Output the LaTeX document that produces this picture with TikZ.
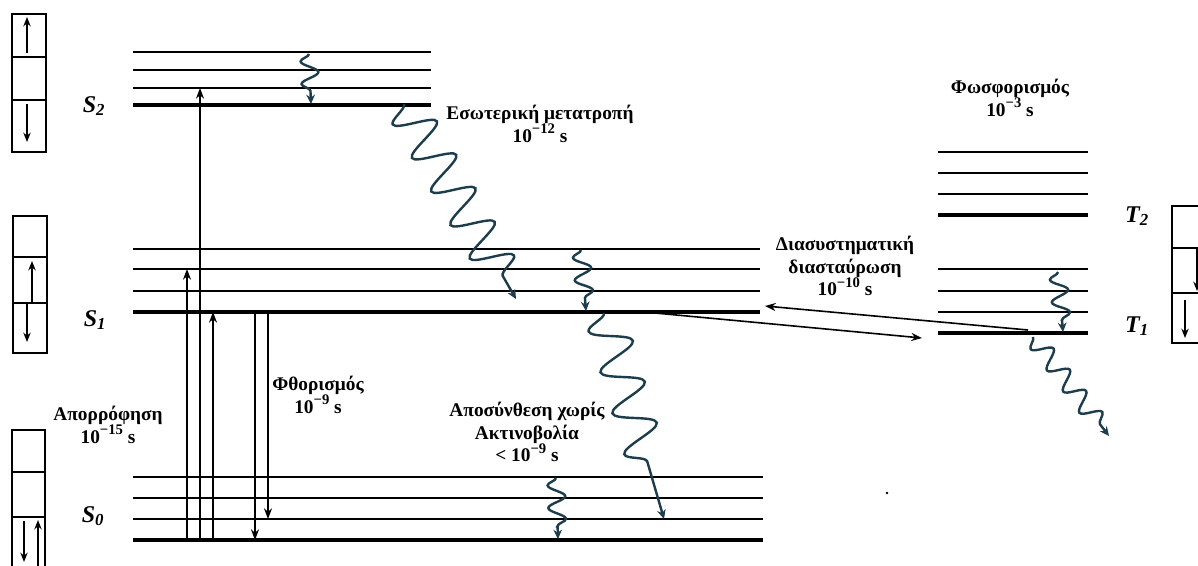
\documentclass[tikz,border=0pt]{standalone}
\usepackage{fontspec}
\setmainfont{Liberation Serif}
\usetikzlibrary{decorations.pathmorphing,arrows.meta}

\definecolor{wavecol}{HTML}{1D3D4D}
\newcommand\pw[1]{\raisebox{0.45em}{\fontsize{11}{11}\selectfont #1}}

\begin{document}
\begin{tikzpicture}[x=0.75pt,y=-0.75pt,
  level/.style={line width=1.9pt},
  ground/.style={line width=2.8pt},
  jump/.style={line width=1.2pt,-{Stealth[length=8pt,width=6pt]}},
  spin/.style={line width=1.5pt,-{Stealth[length=7pt,width=5.5pt]}},
  cell/.style={line width=1.6pt},
  lbl/.style={font=\fontsize{14.5}{17}\selectfont\bfseries,align=center,inner sep=0pt},
  slab/.style={font=\fontsize{18}{18}\selectfont\bfseries\itshape,inner sep=0pt},
  wave/.style n args={3}{wavecol,line width=1.8pt,-{Stealth[length=7pt,width=6.5pt]},
    decorate,decoration={snake,mirror,amplitude=#1,segment length=#2,post length=#3,pre length=0pt}}]

\useasboundingbox (0,0) rectangle (1198,565);

% ---------- singlet levels ----------
\foreach \y in {52,70,88} \draw[level] (133,\y) -- (431,\y);
\draw[ground] (133,105) -- (431,105);
\foreach \y in {249,269,291} \draw[level] (133,\y) -- (760,\y);
\draw[ground] (133,312) -- (760,312);
\foreach \y in {477,498,519} \draw[level] (133,\y) -- (763,\y);
\draw[ground] (133,540) -- (763,540);

% ---------- triplet levels ----------
\foreach \y in {152,173,194} \draw[level] (938,\y) -- (1088,\y);
\draw[ground] (938,215) -- (1088,215);
\foreach \y in {269,291,312} \draw[level] (938,\y) -- (1088,\y);
\draw[ground] (938,333) -- (1088,333);

% ---------- state labels ----------
\node[slab] (s2) at (94,106) {S\textsubscript{2}};
\node[slab] (s1) at (95,320) {S\textsubscript{1}};
\node[slab] (s0) at (93,516) {S\textsubscript{0}};
\node[slab] (t2) at (1137,216) {T\textsubscript{2}};
\node[slab] (t1) at (1137,326) {T\textsubscript{1}};

% ---------- orbital diagrams ----------
\draw[cell] (12,14) rectangle (46,152);
\draw[cell] (12,57) -- (46,57) (12,100) -- (46,100);
\coordinate (b1a) at (27,53); \coordinate (b1b) at (27,17);
\coordinate (b1c) at (27,104); \coordinate (b1d) at (27,142);
\draw[spin] (b1a) -- (b1b);
\draw[spin] (b1c) -- (b1d);

\draw[cell] (13,216) rectangle (47,353);
\draw[cell] (13,257) -- (47,257) (13,303) -- (47,303);
\coordinate (b2a) at (32,303); \coordinate (b2b) at (32,261);
\coordinate (b2c) at (27,304); \coordinate (b2d) at (27,342);
\draw[spin] (b2a) -- (b2b);
\draw[spin] (b2c) -- (b2d);

\draw[cell] (12,430) rectangle (45,580);
\draw[cell] (12,472) -- (45,472) (12,517) -- (45,517);
\coordinate (b3a) at (24,521); \coordinate (b3b) at (24,562);
\coordinate (b3c) at (38,566); \coordinate (b3d) at (38,520);
\draw[spin] (b3a) -- (b3b);
\draw[spin] (b3c) -- (b3d);

\draw[cell] (1172,206) rectangle (1215,343);
\draw[cell] (1172,248) -- (1215,248) (1172,293) -- (1215,293);
\coordinate (b4a) at (1197,249); \coordinate (b4b) at (1197,291);
\coordinate (b4c) at (1185,300); \coordinate (b4d) at (1185,338);
\draw[spin] (b4a) -- (b4b);
\draw[spin] (b4c) -- (b4d);

% ---------- absorption and fluorescence ----------
\coordinate (a1) at (187,540); \coordinate (a1e) at (187,269);
\coordinate (a2) at (200,540); \coordinate (a2e) at (200,88);
\coordinate (a3) at (213,540); \coordinate (a3e) at (213,312);
\coordinate (f1) at (255,312); \coordinate (f1e) at (255,540);
\coordinate (f2) at (268,312); \coordinate (f2e) at (268,519);
\draw[jump] (a1) -- (a1e);
\draw[jump] (a2) -- (a2e);
\draw[jump] (a3) -- (a3e);
\draw[jump] (f1) -- (f1e);
\draw[jump] (f2) -- (f2e);

% ---------- intersystem crossing ----------
\coordinate (i1) at (655,313); \coordinate (i1e) at (922,338);
\coordinate (i2) at (1028,330); \coordinate (i2e) at (765,306);
\draw[jump] (i1) -- (i1e);
\draw[jump] (i2) -- (i2e);

% ---------- radiationless relaxation ----------
\coordinate (w1) at (309,54);   \coordinate (w1e) at (311,104);
\coordinate (w2) at (404,104);  \coordinate (w2e) at (516,299);
\coordinate (w3) at (581,250);  \coordinate (w3e) at (586,311);
\coordinate (w4) at (604,313);  \coordinate (w4e) at (664,519);
\coordinate (w5) at (556,478);  \coordinate (w5e) at (558,539);
\coordinate (w6) at (1058,272); \coordinate (w6e) at (1063,332);
\coordinate (w7) at (1033,337); \coordinate (w7e) at (1109,436);
\draw[wave={6.5pt}{17pt}{3pt}] (w1) -- (w1e);
\draw[wave={15pt}{29pt}{10pt}] (w2) -- (w2e);
\draw[wave={6.5pt}{17pt}{3pt}] (w3) -- (w3e);
\draw[wave={15pt}{32pt}{30pt}] (w4) -- (w4e);
\draw[wave={6.5pt}{17pt}{3pt}] (w5) -- (w5e);
\draw[wave={6.5pt}{17pt}{3pt}] (w6) -- (w6e);
\draw[wave={7pt}{20pt}{4pt}] (w7) -- (w7e);

\fill (887,493) circle (1pt);

% ---------- process labels ----------
\node[lbl] (labs) at (108,425) {Απορρόφηση\\10\pw{−15} s};
\node[lbl] (lflu) at (318,395) {Φθορισμός\\10\pw{−9} s};
\node[lbl] (lic) at (540,124) {Εσωτερική μετατροπή\\10\pw{−12} s};
\node[lbl] (lisc) at (845,266) {Διασυστηματική\\διασταύρωση\\10\pw{−10} s};
\node[lbl] (lpho) at (1010,98) {Φωσφορισμός\\10\pw{−3} s};
\node[lbl] (lnr) at (527,432) {Αποσύνθεση χωρίς\\Ακτινοβολία\\< 10\pw{−9} s};
\end{tikzpicture}
\end{document}
